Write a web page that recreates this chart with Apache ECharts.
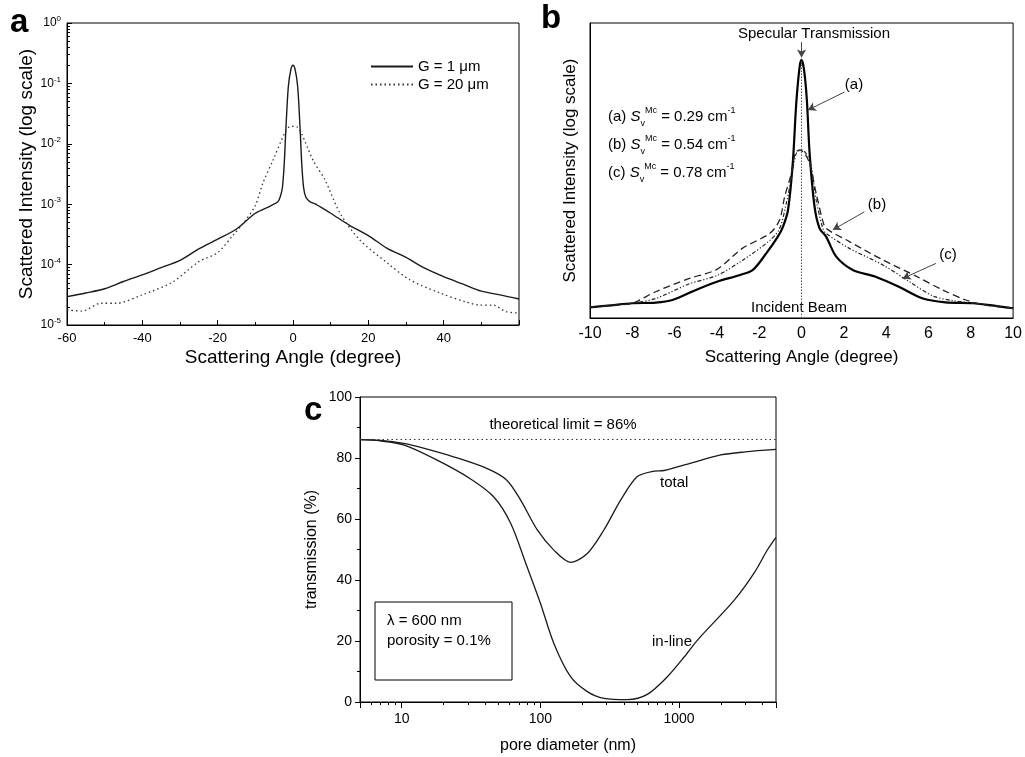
<!DOCTYPE html>
<html>
<head>
<meta charset="utf-8">
<script src="https://cdn.jsdelivr.net/npm/echarts@6/dist/echarts.min.js"></script>
<style>
html,body{margin:0;padding:0;background:#fff}
#chart{width:1025px;height:757px}
</style>
</head>
<body>
<div id="chart"></div>
<script>
const FONT = 'Liberation Sans, Arial, sans-serif';

// ---------- Panel a : scattered intensity vs angle (log) ----------
const aAngleG1 = [-60,-55,-50,-45,-40,-35,-30,-25,-20,-15,-10,-6,-4,-3.4,-2.8,-2.3,-1.9,-1.25,-0.6,0,0.6,1.25,1.9,2.3,2.8,3.4,4.5,6,10,15,20,25,30,35,40,45,50,55,60];
const aIntG1 = [2.95e-5,3.39e-5,3.98e-5,5.25e-5,6.76e-5,8.91e-5,1.17e-4,1.82e-4,2.63e-4,3.89e-4,7.08e-4,9.33e-4,1.10e-3,1.32e-3,1.91e-3,5.0e-3,1.70e-2,8.7e-2,0.166,0.20,0.166,8.7e-2,1.70e-2,5.0e-3,1.91e-3,1.32e-3,1.10e-3,1.0e-3,7.08e-4,4.47e-4,3.02e-4,1.86e-4,1.32e-4,8.71e-5,6.31e-5,4.79e-5,3.63e-5,3.16e-5,2.69e-5];
const aAngleG20 = [-60,-56,-51,-47,-40,-32,-25,-20,-16,-13,-10,-8,-5.3,-2.2,-1,0,1,2.2,5.3,8.5,12.5,17.7,25,31,39,46,49.5,53,56.6,60];
const aIntG20 = [1.78e-5,1.70e-5,2.29e-5,2.29e-5,3.16e-5,5.13e-5,1.12e-4,1.58e-4,3.02e-4,5.01e-4,9.55e-4,2.24e-3,5.37e-3,1.51e-2,1.91e-2,1.95e-2,1.91e-2,1.51e-2,5.37e-3,2.51e-3,7.08e-4,2.57e-4,1.07e-4,5.62e-5,3.39e-5,2.40e-5,2.14e-5,2.14e-5,1.66e-5,1.58e-5];
const aNames = ['G = 1 \u03bcm', 'G = 20 \u03bcm'];

// ---------- Panel b : three samples, relative log intensity ----------
const bAngleA = [-10,-9,-8,-6.9,-6.1,-5,-4,-2.9,-2.3,-1.67,-1.12,-0.88,-0.64,-0.41,-0.25,-0.09,0,0.12,0.25,0.38,0.61,0.85,1.16,1.64,2.42,3.5,4.6,5.7,6.8,8.1,9,10];
const bValA = [3.6,4.3,5.0,5.2,6.1,9.5,12.3,14.6,16.3,21.9,27.6,30.9,36.6,53,72.8,85.2,87.5,84,74,56,38,30.4,27.6,20.8,16.3,14.0,10.6,6.7,5.3,5.0,4.3,3.3];
const bAngleB = [-10,-9,-8,-6.9,-5.3,-4,-2.8,-1.5,-1.04,-0.8,-0.5,-0.3,-0.09,0.14,0.38,0.69,1.0,1.16,2.26,3.84,5.41,6.67,7.77,8.7,10];
const bValB = [3.6,4.3,5.0,8.9,13.4,16.5,23.6,28.7,33.2,41.1,48.5,55.8,57,55.8,52.4,42.3,33,30.4,25.9,19.7,14.2,9.5,6.1,4.4,3.3];
const bAngleC = [-10,-9,-8,-6.9,-5.3,-4,-2.8,-1.5,-1.04,-0.72,-0.49,-0.25,0,0.38,0.69,1.0,1.16,2.26,3.84,5.1,6.2,7.14,8.1,9,10];
const bValC = [3.6,4.3,5.0,6.6,11.6,14.4,19.5,26.3,30.3,38.9,47,55.8,57,53.6,40,30.5,28.7,23.6,18.0,12.3,7.5,5.9,5.0,4.3,3.3];

// ---------- Panel c : transmission vs pore diameter ----------
const cDiamTotal = [5,7,10.3,15,23.6,41,57,72,95,125,165,218,287,379,500,660,780,1150,2000,3000,5000];
const cTransTotal = [86,85.8,84.8,83,80.4,76.6,72.8,66.2,56.4,49.8,45.8,48.7,56.4,66.2,73.9,75.7,75.9,78,81,82,82.8];
const cDiamInline = [5,7,10.3,18,31,46,61,80,100,125,165,218,287,424,590,824,1100,1358,2500,3500,4350,5000];
const cTransInline = [86,85.6,84.3,79.3,73.3,67.3,58.6,44.4,32.4,19.2,8.3,3.4,1.2,0.8,2.5,8.3,15,20.3,33.4,42.5,50,54];
const cLimit = 86;
const cTickLabels = [10, 100, 1000];

const zip = (xs, ys) => xs.map((x, i) => [x, ys[i]]);

const chart = echarts.init(document.getElementById('chart'), null, {renderer: 'canvas'});

const axisLineBlack = {show: true, onZero: false, lineStyle: {color: '#000', width: 1}};
const gridBorder = {show: true, borderColor: '#000', borderWidth: 1, backgroundColor: 'transparent'};
const SM = 0.3;

const option = {
  animation: false,
  backgroundColor: '#fff',
  textStyle: {fontFamily: FONT, color: '#000'},
  grid: [
    Object.assign({left: 67, top: 23, width: 452, height: 302}, gridBorder),
    Object.assign({left: 590, top: 23, width: 424, height: 295}, gridBorder),
    Object.assign({left: 360, top: 397, width: 416, height: 305}, gridBorder)
  ],
  legend: {
    data: aNames,
    orient: 'vertical',
    left: 365, top: 54,
    itemWidth: 42, itemHeight: 12, itemGap: 3,
    itemStyle: {opacity: 0},
    textStyle: {fontSize: 15, fontFamily: FONT, color: '#000'},
    selectedMode: false
  },
  xAxis: [
    {
      gridIndex: 0, type: 'value', min: -60, max: 60, interval: 20,
      axisLine: axisLineBlack,
      axisTick: {show: true, inside: true, length: 5, lineStyle: {color: '#000'}},
      minorTick: {show: true, splitNumber: 2, length: 3, lineStyle: {color: '#000'}},
      splitLine: {show: false},
      axisLabel: {fontSize: 13, color: '#000', margin: 7, fontFamily: FONT,
        formatter: v => (v >= 60) ? '' : String(v)},
      name: 'Scattering Angle (degree)', nameLocation: 'middle', nameGap: 23,
      nameTextStyle: {fontSize: 19, fontFamily: FONT, color: '#000'}
    },
    {
      gridIndex: 1, type: 'value', min: -10, max: 10, interval: 2,
      axisLine: axisLineBlack,
      axisTick: {show: false},
      splitLine: {show: false},
      axisLabel: {fontSize: 16, color: '#000', margin: 8, fontFamily: FONT},
      name: 'Scattering Angle (degree)', nameLocation: 'middle', nameGap: 31,
      nameTextStyle: {fontSize: 17, fontFamily: FONT, color: '#000'}
    },
    {
      gridIndex: 2, type: 'log', logBase: 10, min: 5, max: 5000,
      axisLine: axisLineBlack,
      axisTick: {show: true, length: 6, lineStyle: {color: '#000'}},
      minorTick: {show: true, splitNumber: 9, length: 3, lineStyle: {color: '#000'}},
      splitLine: {show: false},
      axisLabel: {fontSize: 14, color: '#000', margin: 10, fontFamily: FONT,
        formatter: v => cTickLabels.indexOf(Math.round(v)) >= 0 ? String(Math.round(v)) : ''},
      name: 'pore diameter (nm)', nameLocation: 'middle', nameGap: 36,
      nameTextStyle: {fontSize: 16, fontFamily: FONT, color: '#000'}
    }
  ],
  yAxis: [
    {
      gridIndex: 0, type: 'log', logBase: 10, min: 1e-5, max: 1,
      axisLine: axisLineBlack,
      axisTick: {show: true, inside: true, length: 5, lineStyle: {color: '#000'}},
      minorTick: {show: true, splitNumber: 9, length: 3, lineStyle: {color: '#000'}},
      splitLine: {show: false},
      axisLabel: {
        fontSize: 12, color: '#000', margin: 6, fontFamily: FONT, lineHeight: 16,
        formatter: v => '10{s|' + Math.round(Math.log10(v)) + '}',
        rich: {s: {fontSize: 8, lineHeight: 10, verticalAlign: 'top', fontFamily: FONT, color: '#000'}}
      },
      name: 'Scattered Intensity (log scale)', nameLocation: 'middle', nameGap: 24,
      nameTextStyle: {fontSize: 19, fontFamily: FONT, color: '#000'}
    },
    {
      gridIndex: 1, type: 'value', min: 0, max: 100,
      axisLine: axisLineBlack,
      axisTick: {show: false}, axisLabel: {show: false}, splitLine: {show: false},
      name: 'Scattered Intensity (log scale)', nameLocation: 'middle', nameGap: 11,
      nameTextStyle: {fontSize: 17, fontFamily: FONT, color: '#000'}
    },
    {
      gridIndex: 2, type: 'value', min: 0, max: 100, interval: 20,
      axisLine: axisLineBlack,
      axisTick: {show: true, length: 5, lineStyle: {color: '#000'}},
      minorTick: {show: true, splitNumber: 2, length: 3, lineStyle: {color: '#000'}},
      splitLine: {show: false},
      axisLabel: {fontSize: 14, color: '#000', margin: 8, fontFamily: FONT},
      name: 'transmission (%)', nameLocation: 'middle', nameGap: 40,
      nameTextStyle: {fontSize: 16, fontFamily: FONT, color: '#000'}
    }
  ],
  series: [
    {
      name: aNames[0], type: 'line', xAxisIndex: 0, yAxisIndex: 0,
      data: zip(aAngleG1, aIntG1), symbol: 'none', smooth: SM,
      lineStyle: {color: '#1a1a1a', width: 1.4, type: 'solid'}, itemStyle: {color: '#1a1a1a'}
    },
    {
      name: aNames[1], type: 'line', xAxisIndex: 0, yAxisIndex: 0,
      data: zip(aAngleG20, aIntG20), symbol: 'none', smooth: SM,
      lineStyle: {color: '#333', width: 1.3, type: [1.5, 3]}, itemStyle: {color: '#333'}
    },
    {
      name: 'b-a', type: 'line', xAxisIndex: 1, yAxisIndex: 1,
      data: zip(bAngleA, bValA), symbol: 'none', smooth: SM,
      lineStyle: {color: '#000', width: 2.2},
      markLine: {
        silent: true, animation: false, label: {show: false},
        lineStyle: {color: '#444', width: 1, type: 'solid'},
        symbolSize: [7, 8],
        data: [
          [{coord: [0, 0], symbol: 'none', lineStyle: {type: [1.5, 1.5], color: '#555'}}, {coord: [0, 87], symbol: 'none'}],
          [{coord: [0, 93.5], symbol: 'none'}, {coord: [0, 88.3], symbol: 'arrow'}],
          [{coord: [2.03, 76.6], symbol: 'none'}, {coord: [0.3, 70.5], symbol: 'arrow'}],
          [{coord: [2.97, 36.0], symbol: 'none'}, {coord: [1.48, 29.9], symbol: 'arrow'}],
          [{coord: [6.35, 18.5], symbol: 'none'}, {coord: [4.78, 13.4], symbol: 'arrow'}]
        ]
      }
    },
    {
      name: 'b-b', type: 'line', xAxisIndex: 1, yAxisIndex: 1,
      data: zip(bAngleB, bValB), symbol: 'none', smooth: SM,
      lineStyle: {color: '#222', width: 1.3, type: [7, 4]}
    },
    {
      name: 'b-c', type: 'line', xAxisIndex: 1, yAxisIndex: 1,
      data: zip(bAngleC, bValC), symbol: 'none', smooth: SM,
      lineStyle: {color: '#222', width: 1.2, type: [4, 2, 1.2, 2, 1.2, 2]}
    },
    {
      name: 'total', type: 'line', xAxisIndex: 2, yAxisIndex: 2,
      data: zip(cDiamTotal, cTransTotal), symbol: 'none', smooth: SM,
      lineStyle: {color: '#1a1a1a', width: 1.3},
      markLine: {
        silent: true, symbol: 'none', label: {show: false},
        lineStyle: {color: '#333', width: 1.2, type: [1.5, 3]},
        data: [{yAxis: cLimit}]
      }
    },
    {
      name: 'in-line', type: 'line', xAxisIndex: 2, yAxisIndex: 2,
      data: zip(cDiamInline, cTransInline), symbol: 'none', smooth: SM,
      lineStyle: {color: '#1a1a1a', width: 1.3}
    }
  ],
  graphic: [
    // panel letters
    {type: 'text', left: 10, top: 6, style: {text: 'a', font: 'bold 33px ' + FONT, fill: '#000'}},
    {type: 'text', left: 541, top: 2, style: {text: 'b', font: 'bold 33px ' + FONT, fill: '#000'}},
    {type: 'text', left: 304, top: 394, style: {text: 'c', font: 'bold 33px ' + FONT, fill: '#000'}},
    // panel b annotations
    {type: 'text', x: 814, y: 34, style: {text: 'Specular Transmission', font: '15px ' + FONT, fill: '#000', align: 'center', verticalAlign: 'middle'}},
    {type: 'text', x: 799, y: 308, style: {text: 'Incident Beam', font: '15px ' + FONT, fill: '#000', align: 'center', verticalAlign: 'middle'}},
    {type: 'text', x: 854, y: 85, style: {text: '(a)', font: '15px ' + FONT, fill: '#000', align: 'center', verticalAlign: 'middle'}},
    {type: 'text', x: 877, y: 205, style: {text: '(b)', font: '15px ' + FONT, fill: '#000', align: 'center', verticalAlign: 'middle'}},
    {type: 'text', x: 948, y: 255, style: {text: '(c)', font: '15px ' + FONT, fill: '#000', align: 'center', verticalAlign: 'middle'}},
    {type: 'text', x: 608, y: 117, style: {
      text: '(a) {i|S}{sub|v}{sup|Mc} = 0.29 cm{sup|-1}', font: '15px ' + FONT, fill: '#000', verticalAlign: 'middle',
      rich: {i: {fontSize: 15, fontStyle: 'italic', lineHeight: 22, fontFamily: FONT}, sub: {fontSize: 9, verticalAlign: 'bottom', lineHeight: 10, fontFamily: FONT}, sup: {fontSize: 9, verticalAlign: 'top', lineHeight: 10, fontFamily: FONT}}
    }},
    {type: 'text', x: 608, y: 145, style: {
      text: '(b) {i|S}{sub|v}{sup|Mc} = 0.54 cm{sup|-1}', font: '15px ' + FONT, fill: '#000', verticalAlign: 'middle',
      rich: {i: {fontSize: 15, fontStyle: 'italic', lineHeight: 22, fontFamily: FONT}, sub: {fontSize: 9, verticalAlign: 'bottom', lineHeight: 10, fontFamily: FONT}, sup: {fontSize: 9, verticalAlign: 'top', lineHeight: 10, fontFamily: FONT}}
    }},
    {type: 'text', x: 608, y: 173, style: {
      text: '(c) {i|S}{sub|v}{sup|Mc} = 0.78 cm{sup|-1}', font: '15px ' + FONT, fill: '#000', verticalAlign: 'middle',
      rich: {i: {fontSize: 15, fontStyle: 'italic', lineHeight: 22, fontFamily: FONT}, sub: {fontSize: 9, verticalAlign: 'bottom', lineHeight: 10, fontFamily: FONT}, sup: {fontSize: 9, verticalAlign: 'top', lineHeight: 10, fontFamily: FONT}}
    }},
    // panel c annotations
    {type: 'text', x: 563, y: 425, style: {text: 'theoretical limit = 86%', font: '15px ' + FONT, fill: '#000', align: 'center', verticalAlign: 'middle'}},
    {type: 'text', x: 660, y: 483, style: {text: 'total', font: '15px ' + FONT, fill: '#000', verticalAlign: 'middle'}},
    {type: 'text', x: 652, y: 642, style: {text: 'in-line', font: '15px ' + FONT, fill: '#000', verticalAlign: 'middle'}},
    {type: 'rect', shape: {x: 375, y: 602, width: 137, height: 78}, style: {fill: 'none', stroke: '#000', lineWidth: 1}},
    {type: 'text', x: 387, y: 621, style: {text: '\u03bb = 600 nm', font: '15px ' + FONT, fill: '#000', verticalAlign: 'middle'}},
    {type: 'text', x: 387, y: 641, style: {text: 'porosity = 0.1%', font: '15px ' + FONT, fill: '#000', verticalAlign: 'middle'}}
  ]
};

chart.setOption(option);
</script>
</body>
</html>
